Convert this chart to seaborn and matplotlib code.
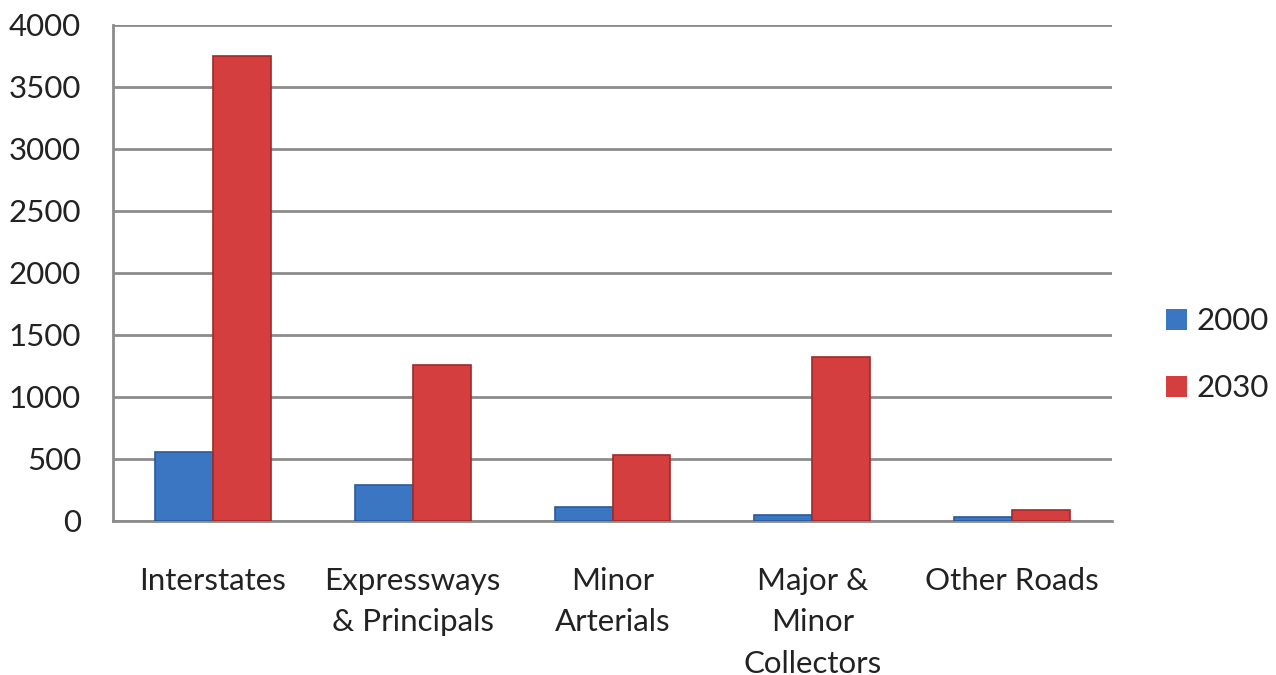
import matplotlib
matplotlib.use("Agg")
import matplotlib.pyplot as plt
import seaborn as sns
import pandas as pd
import numpy as np

categories = ["Interstates", "Expressways\n& Principals", "Minor\nArterials",
              "Major &\nMinor\nCollectors", "Other Roads"]
years = ["2000", "2030"]
values_2000 = [560, 290, 115, 50, 35]
values_2030 = [3750, 1260, 530, 1320, 85]
yticks = [0, 500, 1000, 1500, 2000, 2500, 3000, 3500, 4000]

df = pd.DataFrame({
    "category": categories * 2,
    "year": [years[0]] * len(categories) + [years[1]] * len(categories),
    "value": values_2000 + values_2030,
})

sns.set_theme(style="white")
plt.rcParams["font.family"] = ["Lato", "DejaVu Sans"]

FS = 22.5
fig = plt.figure(figsize=(12.76, 6.75), dpi=100)
ax = fig.add_axes([113 / 1276, 1 - 521 / 675, (1112 - 113) / 1276, (521 - 25) / 675])

palette = {"2000": "#3B76C2", "2030": "#D53E3E"}
sns.barplot(data=df, x="category", y="value", hue="year", order=categories,
            hue_order=years, palette=palette, width=0.58, ax=ax,
            edgecolor="none", saturation=1, zorder=3)

for patch, col in zip(ax.patches, ["#2A5A9A"] * 5 + ["#A02A2A"] * 5):
    patch.set_edgecolor(col)
    patch.set_linewidth(1.2)

ax.set_ylim(0, 4000)
ax.set_xlim(-0.5, 4.5)
ax.set_yticks(yticks)
ax.set_yticklabels([str(t) for t in yticks], fontsize=FS, color="#222222")
ax.yaxis.grid(True, color="#8C8C8C", linewidth=2, zorder=0)
ax.set_axisbelow(True)
ax.tick_params(axis="y", length=0, pad=23)

ax.set_xticks(range(len(categories)))
ax.set_xticklabels(categories, fontsize=FS, color="#222222", linespacing=1.58)
ax.tick_params(axis="x", which="major", length=0, pad=33)
ax.set_xticks(np.arange(-0.5, len(categories), 1.0), minor=True)
ax.tick_params(axis="x", which="minor", length=12, width=2, color="#8C8C8C", direction="out")

ax.set_xlabel("")
ax.set_ylabel("")
for s in ["top", "right"]:
    ax.spines[s].set_visible(False)
for s in ["left", "bottom"]:
    ax.spines[s].set_color("#8C8C8C")
    ax.spines[s].set_linewidth(2)

leg = ax.legend(loc="center left", bbox_to_anchor=(1.042, 0.335), frameon=False,
                fontsize=FS, handlelength=0.65, handleheight=0.65, handletextpad=0.3,
                labelspacing=1.25, borderaxespad=0)
for t in leg.get_texts():
    t.set_color("#222222")

fig.savefig("out.png", dpi=100)
